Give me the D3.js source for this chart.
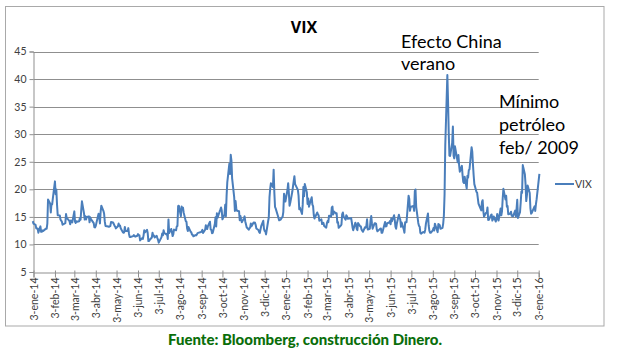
<!DOCTYPE html>
<html>
<head>
<meta charset="utf-8">
<script src="https://cdn.jsdelivr.net/npm/d3@7"></script>
<style>
  body { margin: 0; background: #fff; }
  svg { display: block; }
</style>
</head>
<body>
<div id="chart"></div>
<script>
// VIX daily closes, one row per month
var months = ["2014-01","2014-02","2014-03","2014-04","2014-05","2014-06","2014-07","2014-08","2014-09","2014-10","2014-11","2014-12",
              "2015-01","2015-02","2015-03","2015-04","2015-05","2015-06","2015-07","2015-08","2015-09","2015-10","2015-11","2015-12","2016-01"];

var tradeDays = [
  [2,3,6,7,8,9,10,13,14,15,16,17,21,22,23,24,27,28,29,30,31],
  [3,4,5,6,7,10,11,12,13,14,18,19,20,21,24,25,26,27,28],
  [3,4,5,6,7,10,11,12,13,14,17,18,19,20,21,24,25,26,27,28,31],
  [1,2,3,4,7,8,9,10,11,14,15,16,17,21,22,23,24,25,28,29,30],
  [1,2,5,6,7,8,9,12,13,14,15,16,19,20,21,22,23,27,28,29,30],
  [2,3,4,5,6,9,10,11,12,13,16,17,18,19,20,23,24,25,26,27,30],
  [1,2,3,7,8,9,10,11,14,15,16,17,18,21,22,23,24,25,28,29,30,31],
  [1,4,5,6,7,8,11,12,13,14,15,18,19,20,21,22,25,26,27,28,29],
  [2,3,4,5,8,9,10,11,12,15,16,17,18,19,22,23,24,25,26,29,30],
  [1,2,3,6,7,8,9,10,13,14,15,16,17,20,21,22,23,24,27,28,29,30,31],
  [3,4,5,6,7,10,11,12,13,14,17,18,19,20,21,24,25,26,28],
  [1,2,3,4,5,8,9,10,11,12,15,16,17,18,19,22,23,24,26,29,30,31],
  [2,5,6,7,8,9,12,13,14,15,16,20,21,22,23,26,27,28,29,30],
  [2,3,4,5,6,9,10,11,12,13,17,18,19,20,23,24,25,26,27],
  [2,3,4,5,6,9,10,11,12,13,16,17,18,19,20,23,24,25,26,27,30,31],
  [1,2,6,7,8,9,10,13,14,15,16,17,20,21,22,23,24,27,28,29,30],
  [1,4,5,6,7,8,11,12,13,14,15,18,19,20,21,22,26,27,28,29],
  [1,2,3,4,5,8,9,10,11,12,15,16,17,18,19,22,23,24,25,26,29,30],
  [1,2,6,7,8,9,10,13,14,15,16,17,20,21,22,23,24,27,28,29,30,31],
  [3,4,5,6,7,10,11,12,13,14,17,18,19,20,21,24,25,26,27,28,31],
  [1,2,3,4,8,9,10,11,14,15,16,17,18,21,22,23,24,25,28,29,30],
  [1,2,5,6,7,8,9,12,13,14,15,16,19,20,21,22,23,26,27,28,29,30],
  [2,3,4,5,6,9,10,11,12,13,16,17,18,19,20,23,24,25,27,30],
  [1,2,3,4,7,8,9,10,11,14,15,16,17,18,21,22,23,24,28,29,30,31],
  [4]
];

var vixCloses = [
  [14.23,13.76,13.55,12.92,12.87,12.89,12.14,13.28,12.28,12.28,12.53,12.44,12.87,12.84,13.77,18.14,17.42,15.80,17.35,17.29,18.41],
  [21.44,19.11,19.95,17.23,15.29,15.26,14.51,14.30,14.14,13.57,13.87,15.50,14.79,14.68,14.23,13.67,14.35,14.04,14.00],
  [16.00,14.10,13.89,14.21,14.11,14.20,14.80,14.47,16.22,17.82,15.64,14.52,15.12,14.52,15.00,15.09,14.02,14.93,14.62,14.41,13.88],
  [13.10,13.09,13.37,13.96,15.57,14.89,13.82,15.89,17.03,16.11,15.61,14.18,13.36,13.25,13.19,13.27,13.32,14.06,13.97,13.71,13.41],
  [13.25,12.91,13.29,13.80,13.40,13.43,12.92,12.23,12.13,12.17,13.17,12.44,12.42,12.96,11.91,11.36,11.36,11.51,11.68,11.57,11.40],
  [11.58,11.87,11.68,11.68,10.73,11.15,10.99,11.60,12.56,12.18,12.65,12.06,10.61,10.62,10.85,11.26,12.13,11.59,11.63,11.26,11.57],
  [11.15,10.82,10.32,11.33,11.98,11.65,12.59,12.08,11.82,11.96,11.00,14.54,12.06,12.81,12.24,11.52,11.84,12.69,12.56,13.28,13.33,16.95],
  [17.03,15.12,16.87,16.37,16.66,15.77,14.23,14.13,12.90,12.42,13.15,12.32,12.21,11.78,11.76,11.47,11.70,11.63,11.78,12.05,12.09],
  [12.25,12.36,12.64,12.09,12.66,13.50,12.88,12.80,13.31,14.12,12.73,12.65,12.03,12.11,13.69,14.93,13.27,15.64,14.85,15.98,16.31],
  [16.71,16.16,14.55,15.46,17.20,15.11,18.76,21.24,24.64,22.79,26.25,25.20,21.99,18.57,16.08,17.87,16.53,16.11,16.04,14.39,15.15,14.52,14.03],
  [14.73,15.10,14.17,13.67,13.12,12.67,12.92,13.02,13.79,13.31,13.99,13.86,13.96,13.58,12.90,12.62,12.25,12.07,13.33],
  [14.29,12.85,12.47,12.38,11.82,14.21,14.89,18.53,20.08,21.08,20.42,23.57,19.44,16.81,16.49,15.25,14.80,14.37,14.50,15.06,15.92,19.20],
  [17.79,19.92,21.12,19.31,17.01,17.55,19.60,20.56,21.48,22.39,20.95,19.89,18.85,16.40,16.66,15.52,17.22,20.44,18.76,20.97],
  [19.43,17.33,18.33,16.85,17.29,18.55,17.23,16.96,15.34,14.69,15.80,15.45,15.29,14.30,14.56,13.69,13.84,13.91,13.34],
  [13.04,13.86,14.23,14.04,15.20,15.06,16.69,16.87,15.42,16.00,15.61,15.66,13.97,14.07,13.02,13.41,13.62,15.44,15.80,15.07,14.51,15.29],
  [15.11,14.67,14.74,14.78,13.98,13.09,12.58,13.94,13.67,12.84,12.60,13.89,13.30,13.25,12.71,12.48,12.29,13.12,13.03,13.39,14.55],
  [12.70,12.85,14.31,15.15,13.86,12.86,13.85,13.86,13.76,12.74,12.38,12.73,12.85,12.88,12.11,12.13,14.06,13.27,13.31,13.84],
  [13.97,14.24,13.66,14.71,14.21,15.29,14.47,13.22,12.85,13.78,15.39,14.81,14.50,13.19,13.96,12.74,12.11,14.01,14.01,14.02,18.85,18.23],
  [16.09,16.79,17.01,16.09,19.66,19.97,16.83,13.90,13.37,13.23,12.11,11.95,12.25,12.22,12.12,12.64,13.74,15.60,13.44,12.50,12.13,12.12],
  [12.56,13.00,12.51,13.77,13.39,12.23,13.71,13.61,13.49,12.83,13.02,13.79,15.25,19.14,28.03,40.74,36.02,30.32,26.10,26.05,28.43],
  [31.40,26.09,25.61,27.80,24.90,26.23,24.37,23.20,24.25,22.54,21.35,21.14,22.28,20.14,22.44,22.13,23.47,23.62,27.63,26.83,24.50],
  [22.55,20.94,19.54,19.40,18.40,17.42,17.08,16.17,17.67,18.03,16.05,15.05,15.75,15.75,16.70,14.45,14.46,15.29,15.43,14.33,14.61,15.07],
  [14.15,14.54,15.51,15.05,14.33,16.52,15.29,16.06,18.37,20.08,18.16,18.84,16.85,16.99,15.47,15.62,15.93,15.19,15.12,16.13],
  [15.07,16.40,18.11,14.81,15.84,17.60,19.61,19.34,24.39,22.73,20.95,17.86,18.94,20.70,19.34,16.60,15.57,15.74,16.91,16.08,17.29,18.21],
  [22.80]
];

var yTicks = [5, 10, 15, 20, 25, 30, 35, 40, 45];
var tickLabels = ["3-ene-14","3-feb-14","3-mar-14","3-abr-14","3-may-14","3-jun-14","3-jul-14","3-ago-14","3-sep-14","3-oct-14","3-nov-14","3-dic-14",
                  "3-ene-15","3-feb-15","3-mar-15","3-abr-15","3-may-15","3-jun-15","3-jul-15","3-ago-15","3-sep-15","3-oct-15","3-nov-15","3-dic-15","3-ene-16"];
var monthAbbr = ["ene","feb","mar","abr","may","jun","jul","ago","sep","oct","nov","dic"];

var W = 621, H = 351;
var blue = "#4a7ebb";
var gridColor = "#8f8f8f";

var parseDay = d3.timeParse("%Y-%m-%d");
var data = [];
months.forEach(function(m, i) {
  tradeDays[i].forEach(function(d, j) {
    data.push({ date: parseDay(m + "-" + (d < 10 ? "0" + d : d)), v: vixCloses[i][j] });
  });
});

var tickDates = tickLabels.map(function(t) {
  var p = t.split("-");
  return new Date(2000 + (+p[2]), monthAbbr.indexOf(p[1]), +p[0]);
});

var x = d3.scaleTime()
  .domain([tickDates[0], tickDates[tickDates.length - 1]])
  .range([33.5, 538.7]);
var y = d3.scaleLinear().domain([5, 45]).range([272, 51.5]);

var svg = d3.select("#chart").append("svg").attr("width", W).attr("height", H);
svg.append("rect").attr("width", W).attr("height", H).attr("fill", "#fff");

// chart area border
svg.append("rect")
  .attr("x", 5.5).attr("y", 6.5).attr("width", 598.5).attr("height", 319.5)
  .attr("fill", "none").attr("stroke", "#a9a9a9").attr("stroke-width", 1);

// gridlines
svg.append("g").selectAll("line")
  .data(yTicks.filter(function(t) { return t > 5; }))
  .enter().append("line")
  .attr("x1", x.range()[0]).attr("x2", x.range()[1])
  .attr("y1", function(d) { return Math.round(y(d)) + 0.5; })
  .attr("y2", function(d) { return Math.round(y(d)) + 0.5; })
  .attr("stroke", gridColor).attr("stroke-width", 1);

// y axis
var yAxis = d3.axisLeft(y).tickValues(yTicks).tickSize(4).tickPadding(3);
var gy = svg.append("g").attr("transform", "translate(" + 33.5 + ",0)").call(yAxis);
gy.select(".domain").attr("stroke", gridColor);
gy.selectAll(".tick line").attr("stroke", gridColor);
gy.selectAll("text").attr("font-family", "Lato, 'Open Sans', sans-serif").attr("font-size", 10.5).attr("fill", "#404040");

// x axis
var xAxis = d3.axisBottom(x).tickValues(tickDates).tickSize(5).tickPadding(4)
  .tickFormat(function(d, i) { return tickLabels[i]; });
var gx = svg.append("g").attr("transform", "translate(0," + (Math.round(y(5)) + 0.5) + ")").call(xAxis);
gx.select(".domain").attr("stroke", gridColor);
gx.selectAll(".tick line").attr("stroke", gridColor).attr("y1", -2);
gx.selectAll("text")
  .attr("font-family", "Lato, 'Open Sans', sans-serif").attr("font-size", 10.5).attr("fill", "#404040")
  .attr("text-anchor", "end")
  .attr("transform", "rotate(-90)")
  .attr("x", -5).attr("y", 0).attr("dy", "0.35em");

// VIX line
var line = d3.line()
  .x(function(d) { return x(d.date); })
  .y(function(d) { return y(d.v); });
svg.append("path")
  .datum(data)
  .attr("d", line)
  .attr("fill", "none")
  .attr("stroke", blue)
  .attr("stroke-width", 2)
  .attr("stroke-linejoin", "round");

// title
svg.append("text")
  .attr("x", 304).attr("y", 33)
  .attr("text-anchor", "middle")
  .attr("font-family", "'Open Sans', sans-serif").attr("font-weight", "bold").attr("font-size", 16)
  .attr("fill", "#000")
  .text("VIX");

// annotations
var notes = [
  { x: 401, y: 48, t: "Efecto China" },
  { x: 401, y: 70, t: "verano" },
  { x: 499, y: 108, t: "Mínimo" },
  { x: 499, y: 131, t: "petróleo" },
  { x: 499, y: 154, t: "feb/ 2009" }
];
svg.append("g").selectAll("text").data(notes).enter().append("text")
  .attr("x", function(d) { return d.x; }).attr("y", function(d) { return d.y; })
  .attr("font-family", "Lato, sans-serif").attr("font-size", 18)
  .attr("fill", "#000")
  .text(function(d) { return d.t; });

// legend
svg.append("line")
  .attr("x1", 555).attr("x2", 574).attr("y1", 184).attr("y2", 184)
  .attr("stroke", blue).attr("stroke-width", 2);
svg.append("text")
  .attr("x", 575).attr("y", 188)
  .attr("font-family", "Lato, sans-serif").attr("font-size", 10.5).attr("fill", "#404040")
  .text("VIX");

// source
svg.append("text")
  .attr("x", 305).attr("y", 345)
  .attr("text-anchor", "middle")
  .attr("font-family", "Lato, sans-serif").attr("font-weight", "900").attr("font-size", 15)
  .attr("fill", "#0a6e0a")
  .text("Fuente: Bloomberg, construcción Dinero.");
</script>
</body>
</html>
